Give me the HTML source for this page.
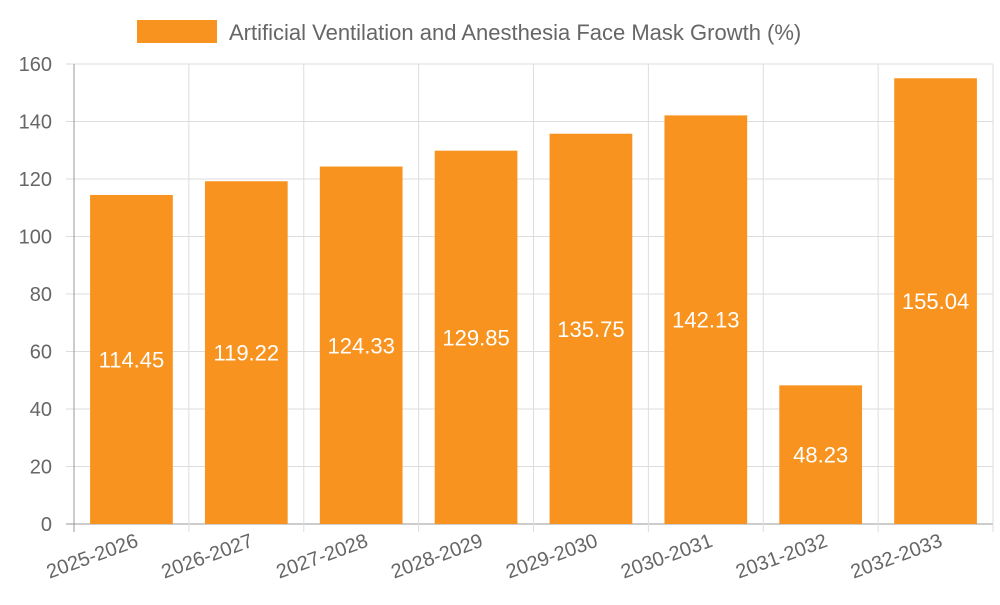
<!DOCTYPE html>
<html><head><meta charset="utf-8"><style>
body{margin:0;background:#fff;}
svg{font-family:"Liberation Sans",sans-serif;}
</style></head><body>
<svg id="c" width="1000" height="600">
<rect x="137" y="20" width="80" height="23" fill="#f7931e"/>
<text x="229" y="40" font-size="22" fill="#666">Artificial Ventilation and Anesthesia Face Mask Growth (%)</text>
<g id="grid"></g><g id="bars"></g><g id="labels"></g>
</svg>
<script>
const categories=["2025-2026","2026-2027","2027-2028","2028-2029","2029-2030","2030-2031","2031-2032","2032-2033"];
const values=[114.45,119.22,124.33,129.85,135.75,142.13,48.23,155.04];
const yTicks=[0,20,40,60,80,100,120,140,160];
const NS="http://www.w3.org/2000/svg";
const L=74,R=993,T=64,B=524,ymax=160;
const y=v=>B-(v/ymax)*(B-T);
const bw=(R-L)/categories.length;
const x=i=>L+i*bw;
function mk(tag,attrs,parent,text){const e=document.createElementNS(NS,tag);for(const k in attrs)e.setAttribute(k,attrs[k]);if(text!==undefined)e.textContent=text;document.getElementById(parent).appendChild(e);return e;}
yTicks.forEach(t=>{
 const g=mk("line",{x1:66,x2:R,y1:y(t),y2:y(t),stroke:t===0?"#999":"#ddd","stroke-width":1},"grid");
 
 
 const tx=mk("text",{x:52,y:y(t)+7,"font-size":20,fill:"#666","text-anchor":"end"},"grid",t);
 
 
});
for(let i=0;i<=categories.length;i++){
 const l=mk("line",{x1:x(i),x2:x(i),y1:T,y2:B+8,stroke:i===0?"#999":"#ddd","stroke-width":1},"grid");
 
 
}
categories.forEach((c,i)=>{
 const v=values[i],cx=x(i)+bw/2,w=bw*0.72;
 const r=mk("rect",{x:cx-w/2,y:y(v),width:w,height:B-y(v),fill:"#f7931e"},"bars");
 
 
 const t=mk("text",{x:cx,y:(y(v)+B)/2+8,"font-size":22,fill:"#fff","text-anchor":"middle"},"labels",v.toFixed(2));
 
 
 const xl=mk("text",{x:cx+8,y:546,"font-size":20,fill:"#666","text-anchor":"end",transform:"rotate(-20 "+(cx+8)+" 546)"},"labels",c);
 
 
});
</script>
</body></html>
